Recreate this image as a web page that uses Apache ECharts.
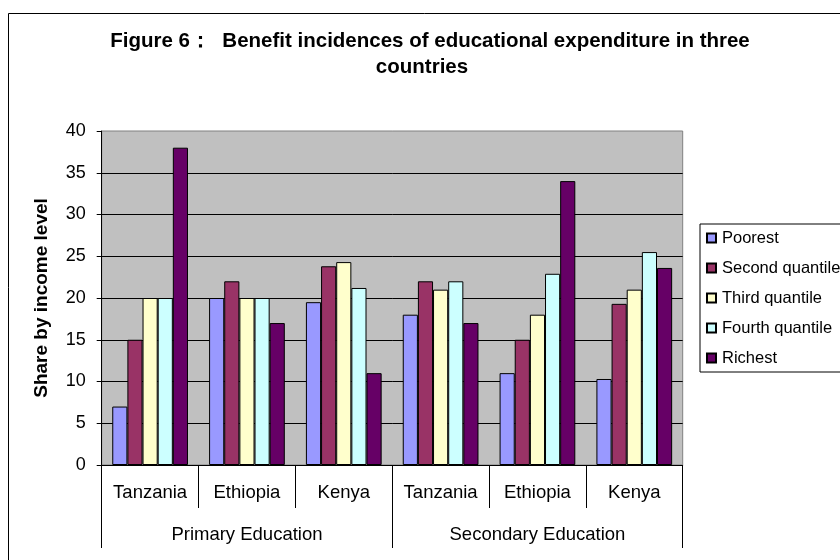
<!DOCTYPE html>
<html>
<head>
<meta charset="utf-8">
<script src="https://cdn.jsdelivr.net/npm/echarts@6/dist/echarts.min.js"></script>
<style>
  html, body { margin: 0; padding: 0; background: #fff; }
  #chart { width: 840px; height: 560px; }
</style>
</head>
<body>
<div id="chart"></div>
<script>
// Benefit incidence of public spending on education, by income quintile
const countries = ['Tanzania', 'Ethiopia', 'Kenya', 'Tanzania', 'Ethiopia', 'Kenya'];
const levels = ['Primary Education', 'Secondary Education'];
const quintiles = ['Poorest', 'Second quantile', 'Third quantile', 'Fourth quantile', 'Richest'];

// Share (%) received by each quintile; order follows `countries`
const poorest  = [7, 20, 19.5, 18, 11, 10.3];
const second   = [15, 22, 23.8, 22, 15, 19.3];
const third    = [20, 20, 24.3, 21, 18, 21];
const fourth   = [20, 20, 21.2, 22, 22.9, 25.5];
const richest  = [38, 17, 11, 17, 34, 23.6];

const yTicks = { min: 0, max: 40, step: 5 };

const palette = ['#9999FF', '#993366', '#FFFFCC', '#CCFFFF', '#660066'];
const font = 'Liberation Sans, Arial, sans-serif';

const chart = echarts.init(document.getElementById('chart'), null, { renderer: 'canvas' });

const seriesValues = [poorest, second, third, fourth, richest];

const option = {
  animation: false,
  backgroundColor: '#ffffff',
  textStyle: { fontFamily: font, color: '#000' },
  graphic: [
    {
      type: 'rect', z: -10, silent: true,
      shape: { x: 8.5, y: 13.5, width: 900, height: 700 },
      style: { fill: 'none', stroke: '#000', lineWidth: 1 }
    },
    {
      type: 'text', x: 430, y: 41,
      style: {
        text: 'Figure 6：  Benefit incidences of educational expenditure in three',
        font: 'bold 20.5px ' + font, fill: '#000', align: 'center', verticalAlign: 'middle'
      }
    },
    {
      type: 'text', x: 422, y: 67,
      style: {
        text: 'countries',
        font: 'bold 20.5px ' + font, fill: '#000', align: 'center', verticalAlign: 'middle'
      }
    }
  ],
  legend: {
    orient: 'vertical',
    left: 700, top: 224,
    padding: [5, 30, 5, 6],
    itemWidth: 9, itemHeight: 9, itemGap: 12,
    borderColor: '#000', borderWidth: 1,
    icon: 'rect',
    textStyle: { fontSize: 16.5, fontFamily: font, color: '#000', lineHeight: 18, padding: [0, 0, 0, 1] },
    data: quintiles
  },
  grid: {
    left: 101.7, top: 131, right: 157.3, bottom: 95,
    show: true, backgroundColor: '#C0C0C0', borderColor: '#808080', borderWidth: 1
  },
  xAxis: [
    {
      type: 'category', position: 'bottom',
      data: countries,
      axisLine: { show: true, lineStyle: { color: '#000', width: 1 } },
      axisTick: { show: true, interval: 0, length: 43, lineStyle: { color: '#000' } },
      axisLabel: { interval: 0, margin: 18, fontSize: 18.5, color: '#000', fontFamily: font },
      splitLine: { show: false }
    },
    {
      type: 'category', position: 'bottom',
      data: levels,
      axisLine: { show: false },
      axisTick: { show: true, interval: 0, length: 83, lineStyle: { color: '#000' } },
      axisLabel: { interval: 0, margin: 60, fontSize: 18.5, color: '#000', fontFamily: font },
      splitLine: { show: false }
    }
  ],
  yAxis: {
    type: 'value',
    min: yTicks.min, max: yTicks.max, interval: yTicks.step,
    name: 'Share by income level',
    nameLocation: 'middle', nameRotate: 90, nameGap: 50,
    nameTextStyle: { fontSize: 19, fontWeight: 'bold', color: '#000', fontFamily: font },
    axisLine: { show: true, lineStyle: { color: '#000', width: 1 } },
    axisTick: { show: true, length: 5, lineStyle: { color: '#000' } },
    axisLabel: { margin: 16, fontSize: 18, color: '#000', fontFamily: font },
    splitLine: { show: true, showMaxLine: false, lineStyle: { color: '#000', width: 1 } }
  },
  series: quintiles.map((name, i) => ({
    name: name,
    type: 'bar',
    xAxisIndex: 0,
    data: seriesValues[i],
    barGap: '0%',
    barCategoryGap: '21.8%',
    itemStyle: { color: palette[i], borderColor: '#000', borderWidth: 1 }
  }))
};

chart.setOption(option);
</script>
</body>
</html>
